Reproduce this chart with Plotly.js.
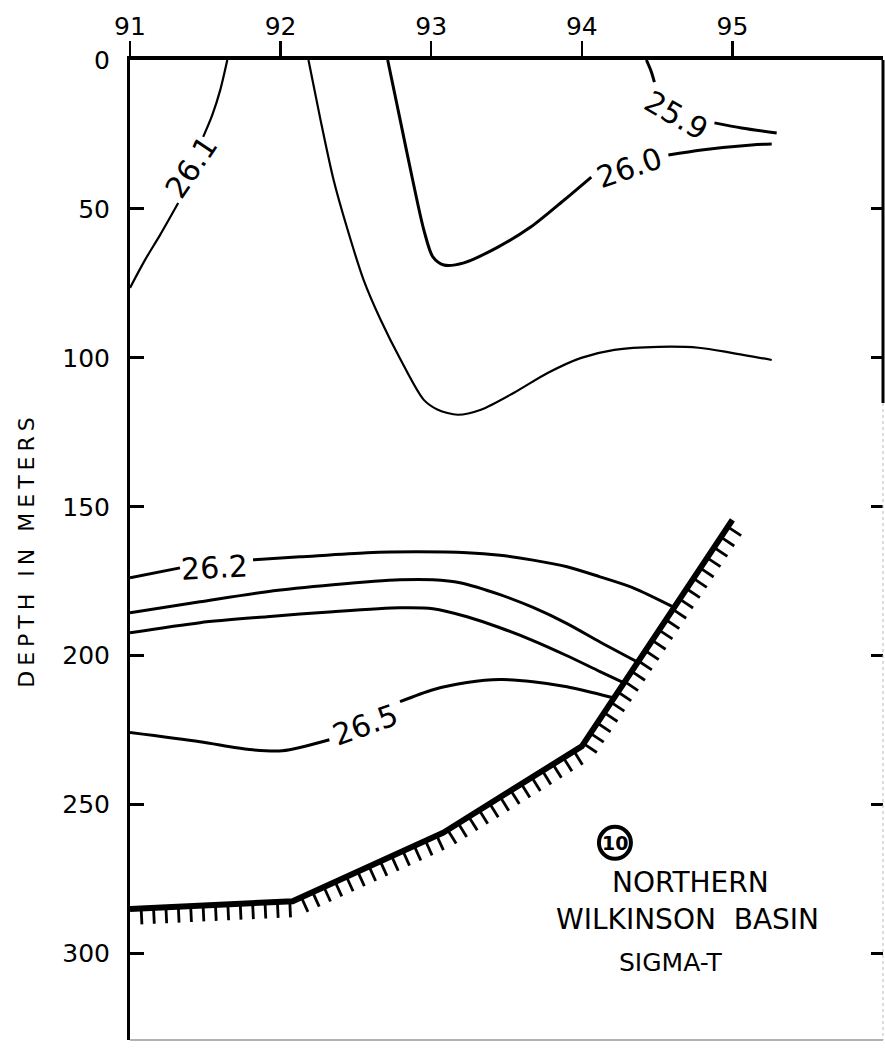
<!DOCTYPE html>
<html>
<head>
<meta charset="utf-8">
<script src="https://cdn.plot.ly/plotly-3.0.1.min.js"></script>
<style>
html,body{margin:0;padding:0;background:#fff;}
.ytitle{letter-spacing:5px;}
</style>
</head>
<body>
<div id="chart" style="width:885px;height:1049px;"></div>
<script>
// ---- Data (station position along section, depth in metres) ----
const xTicks = [91, 92, 93, 94, 95];
const yTicks = [0, 50, 100, 150, 200, 250, 300];

// 26.1 isopycnal (gap where label sits)
const s261_x = [91.646, 91.599, 91.546, 91.486, null, 91.320, 91.200, 91.100, 91.000];
const s261_d = [0, 10.1, 18.5, 25.8, null, 48.0, 58.7, 67.1, 76.5];

// unlabelled isopycnal between 26.0 and 26.1
const s2605_x = [92.185, 92.265, 92.352, 92.445, 92.551, 92.664, 92.798, 92.951, 93.044, 93.177, 93.330, 93.550, 93.776, 93.996, 94.216, 94.509, 94.775, 94.995, 95.261];
const s2605_d = [0, 20.1, 40.3, 57.0, 73.8, 87.2, 100.7, 114.1, 117.4, 119.1, 117.4, 111.7, 105.0, 100.0, 97.3, 96.3, 96.6, 98.3, 100.7];

// 26.0 isopycnal
const s260_x = [92.711, 92.798, 92.877, 92.951, 93.011, 93.084, 93.217, 93.443, 93.663, 93.883, 94.063, null, 94.575, 94.795, 95.128, 95.261];
const s260_d = [0, 21.1, 40.3, 57.0, 66.1, 68.8, 68.1, 62.8, 56.0, 47.0, 39.3, null, 31.9, 30.2, 28.5, 28.2];

// 25.9 isopycnal
const s259_x = [94.429, 94.462, 94.482, null, 94.881, 95.061, 95.294];
const s259_d = [0, 4.0, 7.4, null, 21.1, 22.8, 24.5];

// 26.2 isopycnal
const s262_x = [91.000, 91.332, null, 91.817, 92.129, 92.574, 92.906, 93.238, 93.457, 93.676, 93.902, 94.121, 94.341, 94.606];
const s262_d = [173.8, 170.5, null, 167.8, 166.8, 165.4, 165.1, 165.4, 166.3, 167.9, 170.1, 173.5, 177.2, 183.6];

// 26.3 isopycnal
const s263_x = [91.000, 91.465, 91.910, 92.348, 92.793, 93.012, 93.191, 93.457, 93.676, 93.902, 94.121, 94.365];
const s263_d = [185.6, 181.9, 178.5, 176.2, 174.5, 174.5, 175.5, 179.5, 183.8, 189.2, 195.4, 202.0];

// 26.4 isopycnal
const s264_x = [91.000, 91.465, 91.910, 92.348, 92.793, 93.012, 93.238, 93.457, 93.676, 93.902, 94.121, 94.277];
const s264_d = [192.3, 188.9, 186.9, 185.2, 183.9, 184.2, 186.9, 190.6, 194.9, 200.0, 205.3, 209.0];

// 26.5 isopycnal
const s265_x = [91.000, 91.465, 91.793, 92.012, 92.324, null, 92.793, 93.012, 93.238, 93.457, 93.676, 93.902, 94.201];
const s265_d = [225.8, 228.9, 231.5, 231.9, 228.2, null, 215.4, 211.4, 209.0, 208.0, 208.7, 210.4, 214.0];

// sea floor
const bottom_x = [91.00, 92.08, 93.08, 94.00, 95.00];
const bottom_d = [285.0, 282.4, 259.4, 230.4, 154.4];

// contour labels
const labelText  = ["26.1", "26.0", "25.9", "26.2", "26.5"];
const labelX     = [91.41, 94.32, 94.63, 91.558, 92.567];
const labelD     = [35.9, 36.2, 18.5, 170.4, 223.2];
const labelAngle = [-56, -19, 30, -3, -20];

// ---- Layout geometry ----
const W = 885, H = 1049;
const M = {l: 130, r: 2, t: 60, b: 9};
const xRange = [91, 96];
const dRange = [0, 329];
const kx = (W - M.l - M.r) / (xRange[1] - xRange[0]);
const ky = (H - M.t - M.b) / (dRange[1] - dRange[0]);

// hatching under the sea floor (decoration derived from the floor line)
function hatch(xs, ds, spacing, len) {
  const px = xs.map(x => (x - xRange[0]) * kx);
  const py = ds.map(d => (d - dRange[0]) * ky);
  const hx = [], hy = [];
  let carry = spacing * 0.9;
  for (let i = 0; i < px.length - 1; i++) {
    const dx = px[i+1] - px[i], dy = py[i+1] - py[i];
    const L = Math.hypot(dx, dy);
    const ux = dx / L, uy = dy / L;
    const nx = -uy, ny = ux;
    let s = carry;
    while (s <= L) {
      const x0 = px[i] + ux * s, y0 = py[i] + uy * s;
      hx.push(xRange[0] + x0 / kx, xRange[0] + (x0 + nx * len) / kx, null);
      hy.push(dRange[0] + y0 / ky, dRange[0] + (y0 + ny * len) / ky, null);
      s += spacing;
    }
    carry = s - L;
  }
  return {hx, hy};
}
const H1 = hatch(bottom_x, bottom_d, 12.4, 16);

function iso(x, y, w) {
  return {x: x, y: y, mode: 'lines', type: 'scatter', hoverinfo: 'skip',
          line: {color: '#000', width: w, shape: 'spline', smoothing: 0.8},
          connectgaps: false, showlegend: false};
}

const traces = [
  iso(s261_x, s261_d, 2.2),
  iso(s2605_x, s2605_d, 2.2),
  iso(s260_x, s260_d, 3),
  iso(s259_x, s259_d, 3),
  iso(s262_x, s262_d, 3),
  iso(s263_x, s263_d, 3),
  iso(s264_x, s264_d, 3),
  iso(s265_x, s265_d, 3),
  {x: bottom_x, y: bottom_d, mode: 'lines', type: 'scatter', showlegend: false,
   line: {color: '#000', width: 6}},
  {x: H1.hx, y: H1.hy, mode: 'lines', type: 'scatter', showlegend: false,
   line: {color: '#000', width: 2.8}, connectgaps: false},
  {x: [null], y: [null], yaxis: 'y2', type: 'scatter', mode: 'lines', showlegend: false}
];

const FONT = 'DejaVu Sans, sans-serif';
const annotations = labelText.map((t, i) => ({
  text: t, x: labelX[i], y: labelD[i], xref: 'x', yref: 'y',
  showarrow: false, textangle: labelAngle[i],
  font: {family: FONT, size: 30, color: '#000'}
}));
annotations.push(
  {text: '10', x: 94.22, y: 262.8, xref: 'x', yref: 'y', showarrow: false,
   font: {family: FONT, size: 19, color: '#000', weight: 'bold'}},
  {text: 'NORTHERN', x: 94.725, y: 276.0, xref: 'x', yref: 'y', showarrow: false, borderpad: 0,
   font: {family: FONT, size: 28, color: '#000'}},
  {text: 'WILKINSON\u00a0\u00a0BASIN', x: 94.705, y: 288.6, xref: 'x', yref: 'y', showarrow: false, borderpad: 0,
   font: {family: FONT, size: 28, color: '#000'}},
  {text: 'SIGMA-T', x: 94.586, y: 303, xref: 'x', yref: 'y', showarrow: false,
   font: {family: FONT, size: 25, color: '#000'}}
);

const layout = {
  width: W, height: H,
  margin: M,
  paper_bgcolor: '#fff', plot_bgcolor: '#fff',
  font: {family: FONT, color: '#000'},
  xaxis: {
    range: xRange, side: 'top', tickvals: xTicks, ticktext: xTicks.map(String),
    ticks: 'outside', ticklen: 15, tickwidth: 2.5, tickcolor: '#000',
    showline: true, linewidth: 4, linecolor: '#000',
    showgrid: false, zeroline: false, ticklabelstandoff: -4,
    tickfont: {family: FONT, size: 25, color: '#000'}
  },
  yaxis: {
    range: [dRange[1], dRange[0]], tickvals: yTicks, ticktext: yTicks.map(String),
    ticks: 'inside', ticklen: 14, tickwidth: 3, tickcolor: '#000',
    showline: true, linewidth: 3, linecolor: '#000',
    showgrid: false, zeroline: false, ticklabelstandoff: 12,
    tickfont: {family: FONT, size: 25, color: '#000'},
    title: {text: 'DEPTH IN METERS', standoff: 22, font: {family: FONT, size: 22, color: '#000'}}
  },
  yaxis2: {
    overlaying: 'y', side: 'right', range: [dRange[1], dRange[0]],
    tickvals: [50, 100, 150, 200, 250, 300], ticks: 'inside', ticklen: 12, tickwidth: 3,
    tickcolor: '#000', showticklabels: false, showline: false, showgrid: false, zeroline: false
  },
  shapes: [
    {type: 'line', xref: 'paper', yref: 'paper', x0: 1, x1: 1, y0: 1, y1: 0.65,
     line: {color: '#000', width: 3}},
    {type: 'line', xref: 'paper', yref: 'paper', x0: 1, x1: 1, y0: 0.65, y1: 0,
     line: {color: '#bbb', width: 1, dash: 'dot'}},
    {type: 'line', xref: 'paper', yref: 'paper', x0: 0, x1: 1, y0: 0, y1: 0,
     line: {color: '#999', width: 1.5}},
    {type: 'circle', xref: 'x', yref: 'y', xsizemode: 'pixel', ysizemode: 'pixel',
     xanchor: 94.22, yanchor: 262.8, x0: -16, x1: 16, y0: -16, y1: 16,
     line: {color: '#000', width: 4}}
  ],
  annotations: annotations
};

Plotly.newPlot('chart', traces, layout, {staticPlot: true, displayModeBar: false});
</script>
</body>
</html>
